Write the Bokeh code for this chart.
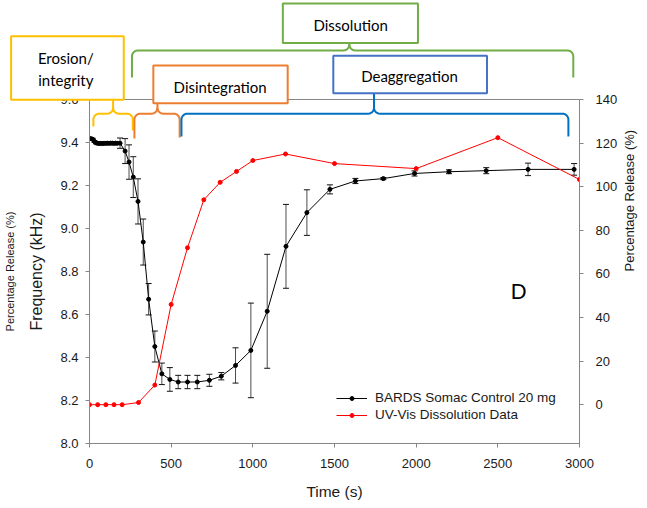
import math
from bokeh.plotting import figure
from bokeh.models import (Range1d, LinearAxis, FixedTicker, ColumnDataSource, Whisker,
                          TeeHead, Legend, LegendItem, Label, NumeralTickFormatter)
from bokeh.core.properties import value
from bokeh.embed import file_html
from bokeh.resources import INLINE

# ---------------- data ----------------
bards_time = [0, 10, 20, 30, 40, 50, 60, 70, 80, 90, 100, 110, 120, 130, 140, 150, 160, 170,
              187, 218, 242, 268, 297, 329, 362, 400, 443, 492, 543, 600, 660, 734, 807, 894,
              988, 1088, 1203, 1331, 1472, 1628, 1799, 1990, 2201, 2429, 2685, 2967]
bards_freq = [9.418, 9.418, 9.415, 9.405, 9.398, 9.396, 9.395, 9.396, 9.395, 9.396, 9.396,
              9.397, 9.396, 9.397, 9.397, 9.396, 9.397, 9.396,
              9.397, 9.360, 9.309, 9.239, 9.126, 8.937, 8.671, 8.451, 8.324, 8.298, 8.286,
              8.286, 8.286, 8.294, 8.313, 8.363, 8.433, 8.615, 8.917, 9.074, 9.182, 9.221,
              9.232, 9.256, 9.264, 9.269, 9.275, 9.275]
bards_err = [0.004, 0.004, 0.004, 0.004, 0.004, 0.004, 0.004, 0.004, 0.004, 0.004, 0.004,
             0.004, 0.004, 0.004, 0.004, 0.004, 0.004, 0.004,
             0.024, 0.058, 0.080, 0.095, 0.105, 0.107, 0.073, 0.072, 0.050, 0.055, 0.031,
             0.031, 0.031, 0.028, 0.017, 0.082, 0.220, 0.265, 0.195, 0.106, 0.021, 0.012,
             0.005, 0.012, 0.009, 0.014, 0.029, 0.027]

uv_time = [0, 50, 100, 150, 200, 300, 400, 500, 600, 700, 800, 900, 1000, 1200, 1500, 2000, 2500, 3000]
uv_release = [0, 0, 0, 0, 0, 1, 9, 46, 72, 94, 102, 107, 112, 115, 110.6, 108.3, 122.5, 103.3]

freq_ticks = [8.0, 8.2, 8.4, 8.6, 8.8, 9.0, 9.2, 9.4, 9.6]
release_ticks = [0, 20, 40, 60, 80, 100, 120, 140]
time_ticks = [0, 500, 1000, 1500, 2000, 2500, 3000]

stage_names = ["Erosion/", "integrity", "Disintegration", "Deaggregation", "Dissolution"]

AXIS_FONT = "Liberation Sans"
BOX_FONT = "Lato"
GREY = "#868686"
TXT = "#1a1a1a"

# ---------------- figure ----------------
p = figure(width=647, height=508, x_range=Range1d(0, 3000), y_range=Range1d(8.0, 9.6),
           output_backend="svg", toolbar_location=None,
           min_border_left=88, min_border_right=67, min_border_top=99, min_border_bottom=65)
p.extra_y_ranges = {"pct": Range1d(-17.8, 140)}
p.xgrid.visible = False
p.ygrid.visible = False
p.outline_line_color = GREY
p.outline_line_width = 1
p.background_fill_color = "white"
p.border_fill_color = "white"

# x axis
xa = p.xaxis[0]
xa.ticker = FixedTicker(ticks=time_ticks)
xa.axis_label = "Time (s)"
# y axis (left)
ya = p.yaxis[0]
ya.ticker = FixedTicker(ticks=freq_ticks)
ya.formatter = NumeralTickFormatter(format="0.0")
ya.axis_label = "Frequency (kHz)"

ra = LinearAxis(y_range_name="pct", ticker=FixedTicker(ticks=release_ticks),
                axis_label="Percentage Release (%)")
p.add_layout(ra, "right")

for ax in (xa, ya, ra):
    ax.axis_line_color = GREY
    ax.major_tick_line_color = GREY
    ax.minor_tick_line_color = None
    ax.major_tick_in = 0
    ax.major_tick_out = 4
    ax.major_label_text_font = AXIS_FONT
    ax.major_label_text_font_size = "13px"
    ax.major_label_text_color = TXT
    ax.axis_label_text_font = AXIS_FONT
    ax.axis_label_text_font_style = "normal"
    ax.axis_label_text_color = TXT

xa.major_label_standoff = 11
xa.axis_label_standoff = 12
xa.axis_label_text_font_size = "15.5px"
ya.major_label_standoff = 7
ya.axis_label_standoff = 12
ya.axis_label_text_font_size = "16px"
ra.major_label_standoff = 12
ra.axis_label_standoff = 9
ra.axis_label_text_font_size = "13px"
ra.axis_label_orientation = math.pi / 2

# outer left label axis
la = LinearAxis(ticker=FixedTicker(ticks=[]), axis_label="Percentage Release (%)",
                axis_line_color=None, major_tick_line_color=None, minor_tick_line_color=None,
                axis_label_standoff=10, axis_label_text_font=AXIS_FONT,
                axis_label_text_font_size="11px", axis_label_text_font_style="normal",
                axis_label_text_color=TXT)
p.add_layout(la, "left")

# ---------------- series ----------------
bsrc = ColumnDataSource(dict(t=bards_time, f=bards_freq,
                             lo=[f - e for f, e in zip(bards_freq, bards_err)],
                             hi=[f + e for f, e in zip(bards_freq, bards_err)]))
usrc = ColumnDataSource(dict(t=uv_time, r=uv_release))

wh = Whisker(source=bsrc, base="t", lower="lo", upper="hi", line_color="#4d4d4d", line_width=1,
             upper_head=TeeHead(size=6, line_color="#111111", line_width=1),
             lower_head=TeeHead(size=6, line_color="#111111", line_width=1))
p.add_layout(wh)

bl = p.line("t", "f", source=bsrc, line_color="black", line_width=1)
bs = p.scatter("t", "f", source=bsrc, size=4, fill_color="black", line_color="black")

ul = p.line("t", "r", source=usrc, y_range_name="pct", line_color="#ff0000", line_width=1)
us = p.scatter("t", "r", source=usrc, y_range_name="pct", size=4, fill_color="#ff0000",
               line_color="#ff0000")

legend = Legend(items=[LegendItem(label="BARDS Somac Control 20 mg", renderers=[bl, bs]),
                       LegendItem(label="UV-Vis Dissolution Data", renderers=[ul, us])],
                location=(247, 20), padding=0, margin=0, spacing=0,
                border_line_color=None, background_fill_alpha=0,
                glyph_width=31, glyph_height=10, label_height=17, label_standoff=8,
                label_text_font=AXIS_FONT, label_text_font_size="13.5px", label_text_color=TXT)
p.add_layout(legend, "center")

p.add_layout(Label(x=2579, y=8.707, text="D", text_font=AXIS_FONT, text_font_size="22px",
                   text_color="black", text_baseline="middle", text_align="left"))

# ---------------- stage annotations ----------------
RX = 36.0      # corner radius in seconds
RY = 0.028     # corner radius in kHz


def arc(cx, cy, a0, a1, n=8):
    return [(cx + RX * math.cos(a0 + (a1 - a0) * k / n), cy + RY * math.sin(a0 + (a1 - a0) * k / n))
            for k in range(n + 1)]


def brace(x1, x2, xc, yh, ye1, ye2, ypeak):
    left = [(x1, ye1)] + arc(x1 + RX, yh - RY, math.pi, math.pi / 2) \
        + arc(xc - RX, yh + RY, -math.pi / 2, 0) + [(xc, ypeak)]
    right = [(xc, yh + RY)] + arc(xc + RX, yh + RY, math.pi, 1.5 * math.pi) \
        + arc(x2 - RX, yh - RY, math.pi / 2, 0) + [(x2, ye2)]
    return [[q[0] for q in left], [q[0] for q in right]], [[q[1] for q in left], [q[1] for q in right]]


braces = [
    (23.8, 265, 144.5, 9.534, 9.475, 9.456, 9.599, "#FFC000"),
    (275, 552, 416, 9.534, 9.419, 9.423, 9.583, "#ED7D31"),
    (563, 2932, 1742, 9.534, 9.428, 9.428, 9.629, "#0070C0"),
    (260, 2962, 1591, 9.828, 9.702, 9.702, 9.863, "#70AD47"),
]
for x1, x2, xc, yh, ye1, ye2, yp, col in braces:
    xs, ys = brace(x1, x2, xc, yh, ye1, ye2, yp)
    p.multi_line(xs, ys, line_color=col, line_width=2, level="overlay")

boxes = [
    (-480, 209.8, 9.894, 9.599, "#FFC000"),
    (390.9, 1213.4, 9.758, 9.583, "#ED7D31"),
    (1492.7, 2433.6, 9.804, 9.629, "#4472C4"),
    (1183.6, 2011, 10.047, 9.863, "#70AD47"),
]
p.quad(left=[b[0] for b in boxes], right=[b[1] for b in boxes], top=[b[2] for b in boxes],
       bottom=[b[3] for b in boxes], fill_color="white", line_color=[b[4] for b in boxes],
       line_width=2, level="overlay")

p.text(x=[-145, -145, 800, 1959, 1599], y=[9.795, 9.693, 9.660, 9.707, 9.948], text=stage_names,
       text_font=value(BOX_FONT), text_font_size="15px", text_color="black",
       text_align="center", text_baseline="middle", level="overlay")

open("out.html", "w").write(file_html(p, INLINE))
